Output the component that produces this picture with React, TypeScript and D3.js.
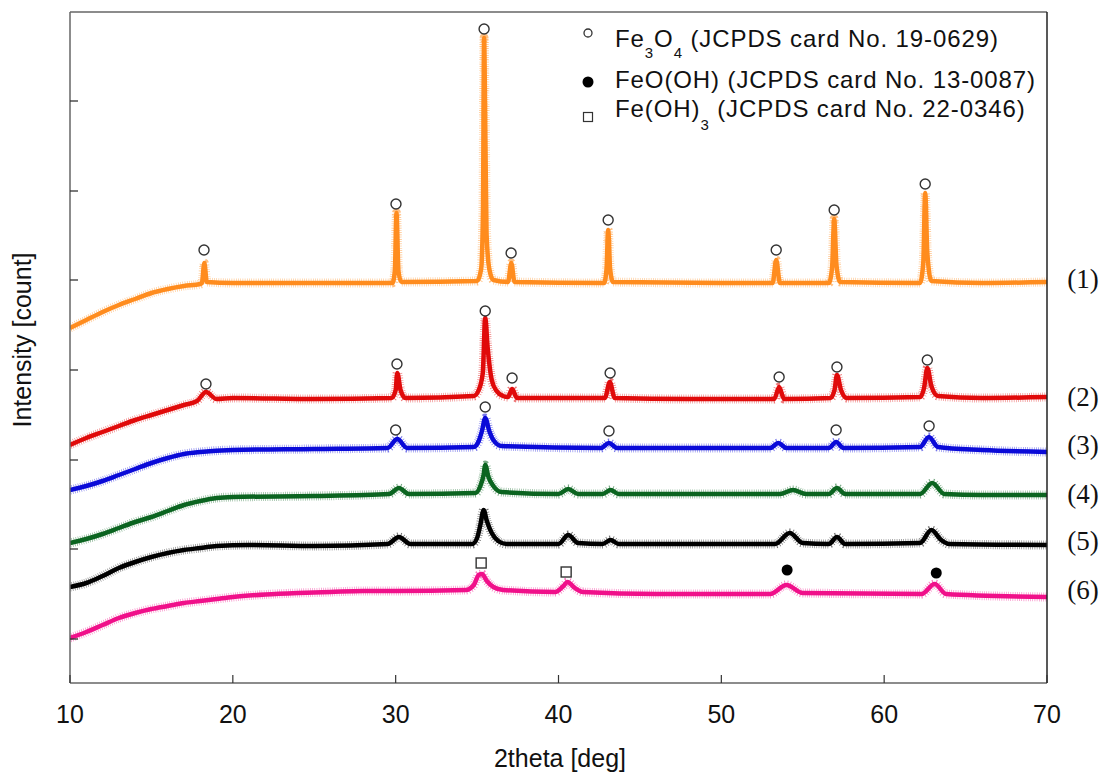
import React from 'react';
import * as d3 from 'd3';

type Pt = [number, number];

const xTicks = [10, 20, 30, 40, 50, 60, 70];
const yTicks = [44, 134, 223, 313, 403, 492, 582];

const seriesNames = ['(1)', '(2)', '(3)', '(4)', '(5)', '(6)'];
const seriesColors = ['#ff8c1e', '#e00a0a', '#0a0ad8', '#0b6420', '#000000', '#f0108a'];
const labelLevels = [403, 285, 237, 188, 141, 92];

const trace1: Pt[] = [
  [10, 355], [11, 363], [12, 371], [13, 378], [14, 384], [15, 390], [16, 394], [17, 397], [18, 399],
  [18.1, 400], [18.25, 420], [18.4, 401],
  [20, 400], [25, 400], [29.8, 400], [29.95, 412], [30.05, 470], [30.17, 412], [30.35, 401],
  [35.0, 402], [35.25, 414], [35.36, 470], [35.43, 645], [35.5, 560], [35.58, 450], [35.75, 414], [36.0, 403],
  [36.9, 401], [37.1, 420], [37.3, 401],
  [42.8, 400], [42.95, 414], [43.05, 453], [43.17, 414], [43.35, 401],
  [50, 400], [53.15, 400], [53.37, 423], [53.6, 400],
  [56.6, 400], [56.8, 415], [56.93, 464], [57.07, 418], [57.3, 401],
  [62.2, 400], [62.4, 420], [62.52, 490], [62.65, 430], [62.9, 402],
  [66, 400], [70, 401],
];

const trace2: Pt[] = [
  [10, 238], [11, 245], [12, 251], [13, 257], [14, 263], [15, 268], [16, 273], [17, 278], [17.8, 282],
  [18.35, 291], [19, 284], [20, 285], [25, 284],
  [29.75, 285], [30.0, 293], [30.1, 310], [30.3, 293], [30.6, 285],
  [34.8, 287], [35.1, 293], [35.35, 310], [35.5, 365], [35.65, 335], [35.9, 303], [36.2, 292], [36.6, 287],
  [36.9, 286], [37.15, 294], [37.45, 285],
  [42.85, 285], [43.15, 301], [43.45, 285],
  [48, 284], [53.25, 284], [53.55, 296], [53.85, 284],
  [56.7, 285], [56.95, 293], [57.1, 308], [57.35, 293], [57.7, 285],
  [62.2, 286], [62.45, 295], [62.65, 315], [62.9, 297], [63.3, 287],
  [66, 285], [70, 286],
];

const trace3: Pt[] = [
  [10, 193], [11, 197], [12, 202], [13, 208], [14, 214], [15, 220], [16, 225], [17, 229], [18, 231], [20, 233], [25, 234],
  [29.5, 235], [30.1, 244], [30.7, 235],
  [34.8, 236], [35.1, 242], [35.3, 252], [35.5, 265], [35.75, 252], [36.0, 243], [36.5, 237],
  [42.6, 235], [43.1, 240], [43.6, 235],
  [53.0, 235], [53.5, 240], [54.0, 235],
  [56.6, 235], [57.05, 241], [57.5, 235],
  [62.2, 236], [62.75, 246], [63.3, 236],
  [66, 233], [70, 231],
];

const trace4: Pt[] = [
  [10, 140], [11, 144], [12, 149], [13, 155], [14, 161], [15, 166], [16, 172], [17, 178], [18, 182], [19, 185], [20, 186], [25, 187],
  [29.6, 189], [30.2, 195], [30.8, 189],
  [34.9, 190], [35.2, 197], [35.4, 208], [35.5, 218], [35.7, 206], [36.0, 197], [36.5, 191],
  [40.0, 189], [40.6, 194], [41.2, 189],
  [42.7, 189], [43.2, 193], [43.7, 189],
  [53.6, 189], [54.4, 193], [55.2, 189],
  [56.6, 189], [57.1, 195], [57.6, 189],
  [62.2, 189], [62.95, 200], [63.7, 189],
  [66, 188], [70, 188],
];

const trace5: Pt[] = [
  [10, 96], [11, 100], [12, 107], [13, 115], [14, 121], [15, 126], [16, 130], [17, 133], [18, 135], [19, 137], [21, 138], [25, 137],
  [29.5, 139], [30.2, 146], [30.9, 139],
  [34.7, 139], [35.0, 145], [35.2, 158], [35.4, 173], [35.6, 162], [35.9, 150], [36.3, 142], [36.8, 139],
  [40.0, 139], [40.6, 148], [41.2, 140],
  [42.7, 139], [43.2, 143], [43.7, 139],
  [53.3, 139], [54.2, 150], [55.0, 140],
  [56.6, 139], [57.1, 146], [57.6, 139],
  [62.2, 140], [62.9, 153], [63.5, 143], [64.0, 139],
  [70, 138],
];

const trace6: Pt[] = [
  [10, 45], [11, 51], [12, 58], [13, 65], [14, 70], [15, 74], [16, 77], [17, 80], [18, 82], [19, 84], [20, 86],
  [22, 88.5], [24, 90], [26, 91], [28, 92], [30, 92],
  [34.3, 93], [34.8, 98], [35.1, 108], [35.3, 109], [35.6, 102], [36.0, 96], [36.6, 93],
  [39.8, 91], [40.3, 97], [40.55, 101], [41.0, 95], [41.5, 91],
  [46, 89], [53.0, 89], [54.0, 98], [55.0, 90],
  [62.3, 89], [63.1, 99], [63.8, 89],
  [70, 86],
];

const traces = [trace1, trace2, trace3, trace4, trace5, trace6];

// Fe3O4 markers (open circles)
const fe3o4Marks: Pt[] = [
  [18.23, 433], [30.02, 479], [35.43, 654], [37.09, 430], [43.05, 463], [53.37, 433], [56.93, 473], [62.52, 499],
  [18.35, 299], [30.08, 319], [35.5, 372], [37.15, 305], [43.17, 310], [53.55, 306], [57.1, 316], [62.65, 323],
  [30.0, 253], [35.5, 276], [43.1, 252], [57.05, 253], [62.76, 257],
];
// FeO(OH) markers (filled dots)
const feoohMarks: Pt[] = [[54.04, 113], [63.2, 110]];
// Fe(OH)3 markers (open squares)
const feoh3Marks: Pt[] = [[35.25, 120], [40.47, 111]];

const W = 1104;
const H = 775;
const M = { left: 70, right: 1047, top: 12, bottom: 683 };

const FONT = "'Liberation Sans', Arial, sans-serif";

export default function App() {
  const x = d3.scaleLinear().domain([10, 70]).range([M.left, M.right]);
  const y = d3.scaleLinear().domain([0, 671]).range([M.bottom, M.top]);
  const line = d3
    .line<Pt>()
    .x((d) => x(d[0]))
    .y((d) => y(d[1]))
    .curve(d3.curveMonotoneX);

  return (
    <svg
      width={W}
      height={H}
      style={{ position: 'absolute', left: 0, top: 0, background: '#fff' }}
      xmlns="http://www.w3.org/2000/svg"
    >
      <rect x={0} y={0} width={W} height={H} fill="#fff" />
      <defs>
        <clipPath id="plot">
          <rect x={M.left} y={M.top} width={M.right - M.left} height={M.bottom - M.top} />
        </clipPath>
      </defs>

      {/* traces */}
      <g clipPath="url(#plot)">
        {traces.map((t, i) => {
          const dStr = line(t) || '';
          const c = seriesColors[i];
          return (
            <g key={i}>
              <path d={dStr} fill="none" stroke={c} strokeWidth={9} strokeDasharray="0.6 1.6" opacity={0.55} />
              <path d={dStr} fill="none" stroke={c} strokeWidth={4.5} strokeLinejoin="round" />
            </g>
          );
        })}
      </g>

      {/* markers */}
      <g>
        {fe3o4Marks.map((m, i) => (
          <circle key={'c' + i} cx={x(m[0])} cy={y(m[1])} r={5} fill="#fff" stroke="#333" strokeWidth={1.4} />
        ))}
        {feoohMarks.map((m, i) => (
          <circle key={'f' + i} cx={x(m[0])} cy={y(m[1])} r={5.5} fill="#000" />
        ))}
        {feoh3Marks.map((m, i) => (
          <rect key={'s' + i} x={x(m[0]) - 5} y={y(m[1]) - 5} width={10} height={10} fill="#fff" stroke="#333" strokeWidth={1.4} />
        ))}
      </g>

      {/* frame */}
      <line x1={M.left} y1={M.top} x2={M.right} y2={M.top} stroke="#666" strokeWidth={1.5} />
      <line x1={M.left} y1={M.top} x2={M.left} y2={M.bottom} stroke="#666" strokeWidth={1.5} />
      <line x1={M.left} y1={M.bottom} x2={M.right} y2={M.bottom} stroke="#666" strokeWidth={1.5} />
      <line x1={M.right} y1={M.top} x2={M.right} y2={M.bottom} stroke="#222" strokeWidth={1.5} />

      {/* y ticks */}
      {yTicks.map((t) => (
        <line key={'yt' + t} x1={M.left} x2={M.left + 8} y1={y(t)} y2={y(t)} stroke="#333" strokeWidth={1.3} />
      ))}
      {/* x ticks */}
      {xTicks.map((t) => (
        <g key={'xt' + t}>
          <line x1={x(t)} x2={x(t)} y1={M.bottom} y2={M.bottom - 8} stroke="#333" strokeWidth={1.2} />
          <text x={x(t)} y={723} textAnchor="middle" fontFamily={FONT} fontSize={25} fill="#111">
            {t}
          </text>
        </g>
      ))}

      {/* axis titles */}
      <text x={560} y={767} textAnchor="middle" fontFamily={FONT} fontSize={25} fill="#111">
        2theta [deg]
      </text>
      <text
        transform={`translate(31, 340) rotate(-90)`}
        textAnchor="middle"
        fontFamily={FONT}
        fontSize={25}
        fill="#111"
      >
        Intensity [count]
      </text>

      {/* series labels */}
      {seriesNames.map((n, i) => (
        <text
          key={n}
          x={1083}
          y={y(labelLevels[i]) + 8}
          textAnchor="middle"
          fontFamily="'Liberation Serif', 'DejaVu Serif', serif"
          fontSize={27}
          fill="#111"
        >
          {n}
        </text>
      ))}

      {/* legend */}
      <g fontFamily={FONT} fill="#111" fontSize={24} letterSpacing={0.9}>
        <circle cx={588} cy={33} r={4} fill="#fff" stroke="#333" strokeWidth={1.3} />
        <text x={615} y={47}>
          Fe
          <tspan fontSize={15} dy={11}>3</tspan>
          <tspan dy={-11}>O</tspan>
          <tspan fontSize={15} dy={11}>4</tspan>
          <tspan dy={-11}> (JCPDS card No. 19-0629)</tspan>
        </text>
        <circle cx={588} cy={82} r={5.5} fill="#000" />
        <text x={615} y={88}>FeO(OH) (JCPDS card No. 13-0087)</text>
        <rect x={583.5} y={112.5} width={9} height={9} fill="#fff" stroke="#333" strokeWidth={1.2} />
        <text x={615} y={117}>
          Fe(OH)
          <tspan fontSize={15} dy={13}>3</tspan>
          <tspan dy={-13}> (JCPDS card No. 22-0346)</tspan>
        </text>
      </g>
    </svg>
  );
}
